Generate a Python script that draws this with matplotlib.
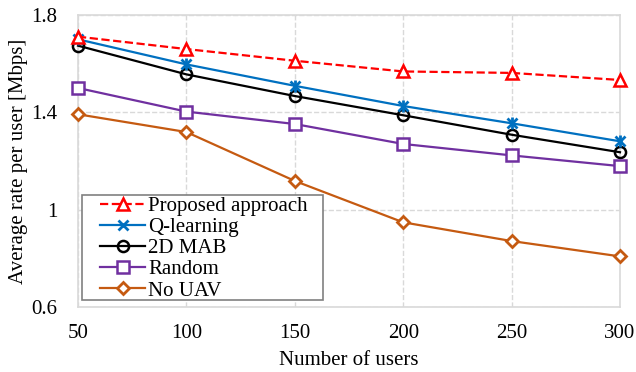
import matplotlib
matplotlib.use("Agg")
import matplotlib.pyplot as plt
from matplotlib.patches import Rectangle

users = [50, 100, 150, 200, 250, 300]
proposed = [1.711, 1.660, 1.612, 1.568, 1.562, 1.533]
q_learning = [1.700, 1.597, 1.509, 1.426, 1.355, 1.281]
mab_2d = [1.674, 1.556, 1.467, 1.388, 1.308, 1.236]
random_pos = [1.500, 1.403, 1.352, 1.270, 1.223, 1.179]
no_uav = [1.392, 1.319, 1.118, 0.948, 0.871, 0.808]

plt.rcParams['font.family'] = ['Liberation Serif', 'DejaVu Serif']
plt.rcParams['font.size'] = 15

fig = plt.figure(figsize=(6.36, 3.72), dpi=100)
ax = fig.add_axes([78 / 636, 1 - 307 / 372, (620 - 78) / 636, (307 - 15) / 372])

lw = 1.6
ax.plot(users, proposed, color='#FF0000', ls='--', lw=lw, marker='^', ms=8,
        mfc='white', mec='#FF0000', mew=1.8, label='Proposed approach', clip_on=False, zorder=3.5)
ax.plot(users, q_learning, color='#0070C0', lw=lw, marker='x', ms=7,
        mec='#0070C0', mew=2.0, label='Q-learning', clip_on=False, zorder=3.4)
ax.plot(users, q_learning, color='#0070C0', lw=0, marker='|', ms=9,
        mec='#0070C0', mew=2.0, clip_on=False, zorder=3.4)
ax.plot(users, mab_2d, color='black', lw=lw, marker='o', ms=8,
        mfc='none', mec='black', mew=1.8, label='2D MAB', clip_on=False, zorder=3)
ax.plot(users, random_pos, color='#7030A0', lw=lw, marker='s', ms=8,
        mfc='white', mec='#7030A0', mew=1.8, label='Random', clip_on=False, zorder=3)
ax.plot(users, no_uav, color='#C55A11', lw=lw, marker='D', ms=6.5,
        mfc='white', mec='#C55A11', mew=2.0, label='No UAV', clip_on=False, zorder=3)

ax.set_xlim(50, 300)
ax.set_ylim(0.6, 1.8)
ax.set_xticks(users)
ax.set_yticks([0.6, 1.0, 1.4, 1.8])
ax.set_yticklabels(['0.6', '1', '1.4', '1.8'])
ax.tick_params(axis='x', length=0, pad=12)
ax.tick_params(axis='y', length=0, pad=15)
ax.grid(True, color='#D9D9D9', ls='--', lw=1.0)
for s in ax.spines.values():
    s.set_color('#D9D9D9')
    s.set_linewidth(1.2)

ax.set_xlabel('Number of users', labelpad=6)
ax.set_ylabel('Average rate per user [Mbps]', labelpad=2)

# legend frame drawn as its own box, wider than the entries
ax.add_patch(Rectangle((0.0074, 0.024), 0.4446, 0.3596, transform=ax.transAxes,
                       facecolor='white', edgecolor='#808080', lw=1.2,
                       zorder=4, clip_on=False))
leg = ax.legend(loc='lower left', bbox_to_anchor=(0.0406, 0.022), frameon=False,
                handlelength=2.16, handletextpad=0.15, labelspacing=0.072,
                borderpad=0.0, borderaxespad=0.0)
leg.set_zorder(5)

fig.savefig('out.png', dpi=100)
